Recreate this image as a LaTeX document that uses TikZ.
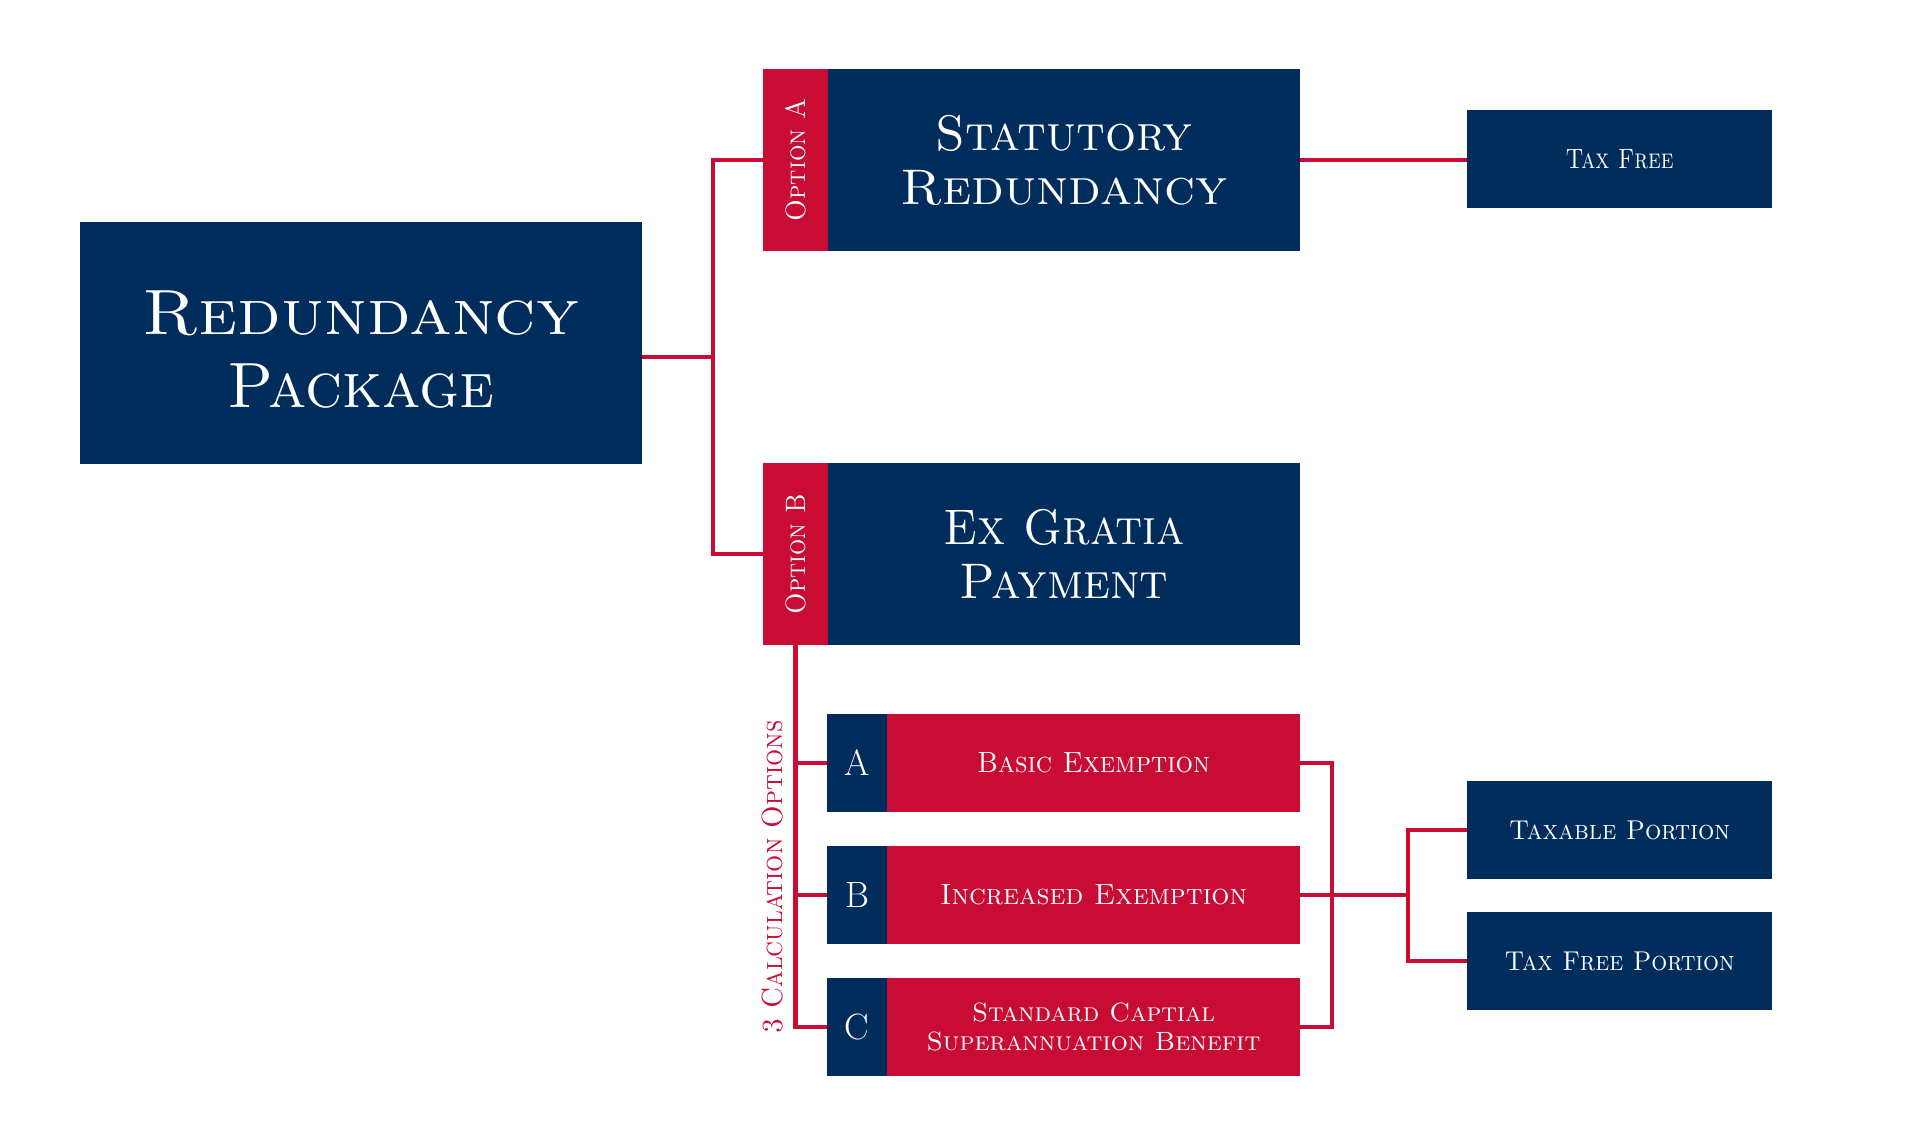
\documentclass[tikz,border=0pt]{standalone}
\usepackage{graphicx}
\definecolor{navy}{RGB}{0,45,91}
\definecolor{crim}{RGB}{200,12,52}
\newcommand\fw[2]{\resizebox{#1}{\height}{\textsc{#2}}}
\begin{document}
\begin{tikzpicture}[x=0.5pt,y=-0.5pt,
  box/.style={rectangle, inner sep=0pt, text=white, align=center},
  navybox/.style={box, fill=navy},
  redbox/.style={box, fill=crim},
  bigbox/.style={minimum width=236pt, minimum height=91pt, font=\fontsize{25}{27}\selectfont},
  strip/.style={redbox, minimum width=32.5pt, minimum height=91pt, font=\fontsize{14}{16}\selectfont},
  smallbox/.style={navybox, minimum width=152.5pt, minimum height=49pt, font=\fontsize{13.6}{16}\selectfont},
  letterbox/.style={navybox, minimum width=30pt, minimum height=49pt, font=\fontsize{18.3}{20}\selectfont},
  rowbox/.style={redbox, minimum width=206.5pt, minimum height=49pt, font=\fontsize{14.6}{16}\selectfont},
  conn/.style={draw=crim, line width=2.3pt, line join=miter}]
\useasboundingbox[fill=white] (0,0) rectangle (1920,1133);

% main box
\node[navybox, minimum width=281pt, minimum height=121pt, font=\fontsize{32}{36.5}\selectfont] (main) at (361,343.5)
  {\rule{0pt}{28pt}\fw{218pt}{Redundancy}\\\fw{133.5pt}{Package}};

% option A
\node[strip] (optA) at (795.5,160) {\rotatebox{90}{\fw{61.5pt}{Option A}}};
\node[navybox, bigbox] (stat) at (1064,160) {\fw{128.5pt}{Statutory}\\\fw{163.5pt}{Redundancy}};
\node[smallbox, font=\fontsize{14}{16}\selectfont] (tf) at (1619.5,159) {\fw{54pt}{Tax Free}};

% option B
\node[strip] (optB) at (795.5,554) {\rotatebox{90}{\fw{60pt}{Option B}}};
\node[navybox, bigbox] (exg) at (1064,554) {\fw{120.5pt}{Ex Gratia}\\\fw{104.5pt}{Payment}};

% calculation options
\node[letterbox] (la) at (857,763) {A};
\node[rowbox] (ra) at (1093.5,763) {\fw{116.5pt}{Basic Exemption}};
\node[letterbox] (lb) at (857,895) {B};
\node[rowbox] (rb) at (1093.5,895) {\fw{153.5pt}{Increased Exemption}};
\node[letterbox] (lc) at (857,1027) {C};
\node[rowbox, font=\fontsize{13.2}{14.5}\selectfont] (rc) at (1093.5,1027)
  {\fw{121.5pt}{Standard Captial}\\\fw{167pt}{Superannuation Benefit}};

\node[text=crim, inner sep=0pt, font=\fontsize{14.6}{16}\selectfont] (calc) at (773,877)
  {\rotatebox{90}{\fw{156.5pt}{3 Calculation Options}}};

% results
\node[smallbox] (tp) at (1619.5,830) {\fw{110.5pt}{Taxable Portion}};
\node[smallbox] (tfp) at (1619.5,961) {\fw{115pt}{Tax Free Portion}};

% connectors
\coordinate (j1) at (713,357);
\draw[conn] (main.east |- j1) -- (j1);
\draw[conn] (optA.west) -| (j1) |- (optB.west);
\draw[conn] (stat.east) -- (stat.east -| tf.west);

\draw[conn] (optB.south) |- (lc.west);
\draw[conn] (la.west) -- (la.west -| optB.south);
\draw[conn] (lb.west) -- (lb.west -| optB.south);

\coordinate (j2) at (1332,895);
\coordinate (j3) at (1408,895);
\draw[conn] (ra.east) -| (j2) |- (rc.east);
\draw[conn] (rb.east) -- (j3);
\draw[conn] (tp.west) -| (j3) |- (tfp.west);
\end{tikzpicture}
\end{document}
